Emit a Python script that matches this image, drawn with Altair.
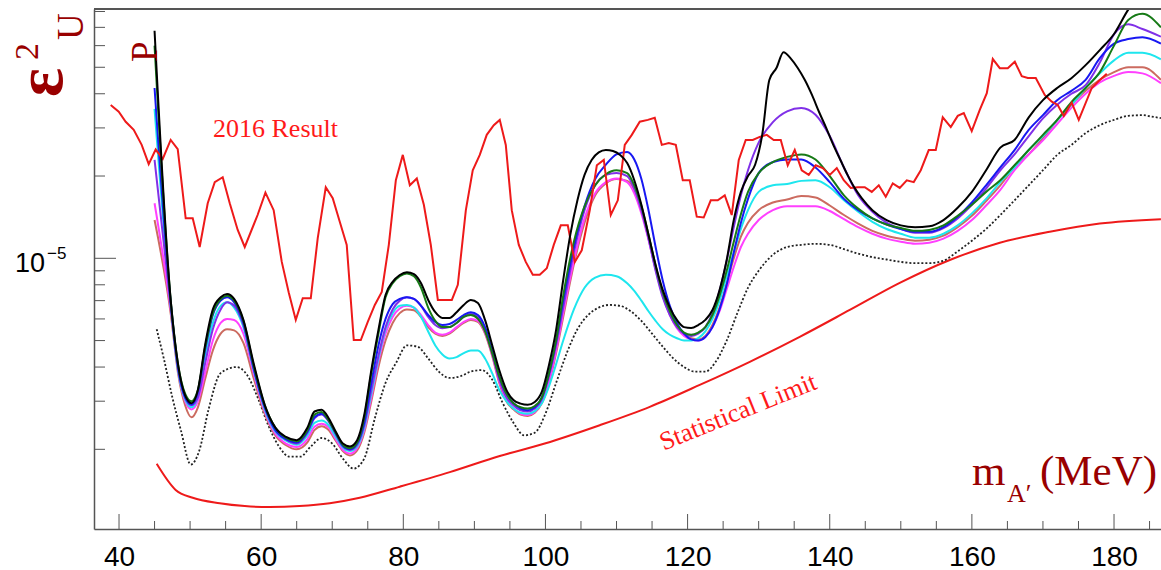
import altair as alt
import pandas as pd

# ---------------- data (mass in MeV, epsilon^2 in units of 1e-6) ----------------
grid = [45.0, 47.3, 48.3, 49.3, 50.2, 51.1, 52.1, 53.2, 54.3, 55.2, 56.2, 57.5, 59, 60.5, 62, 63.5,
        65, 66.5, 67.5, 68.5, 69.5, 70.5, 71.5, 72.5, 73.5, 74.5, 75.5, 76.5, 77.5, 78.5, 79.5, 80.5,
        81.5, 82.5, 83.5, 84.5, 85.5, 86.5, 87.5, 88.5, 89.5, 90.5, 91.5, 92.5, 93.5, 94.5, 95.5, 96.5,
        97.5, 98.5, 99.5, 100.5, 101.5, 102.5, 104, 105.5, 107, 108.5, 110, 111.5, 112.5, 113.5, 114.5,
        115.5, 116.5, 117.5, 118.5, 119.5, 120.5, 121.5, 122.5, 123.5, 124.5, 125.5, 126.5, 127.5, 128.5,
        130, 132, 134, 136, 138, 140, 142, 144, 146, 148, 150, 152, 154, 156, 158, 160, 162, 164, 166,
        168, 170, 172, 174, 176, 178, 180, 182, 184, 186.6]

green = [60, 6.9, 4.1, 3.2, 3.0, 3.3, 4.7, 6.3, 7.1, 7.3, 7.0, 5.9, 4.0, 2.9, 2.4, 2.2,
         2.14, 2.35, 2.68, 2.74, 2.55, 2.3, 2.08, 2.02, 2.12, 2.6, 3.8, 5.3, 7.2, 8.1, 8.6, 8.8,
         8.6, 7.8, 6.6, 5.9, 5.6, 5.6, 5.8, 6.1, 6.2, 6.0, 5.4, 4.5, 3.7, 3.2, 2.95, 2.85,
         2.82, 2.88, 3.1, 3.8, 5.0, 7.3, 11.5, 15.5, 18.5, 20.3, 21.0, 20.5, 18.5, 15.5, 12.2,
         9.4, 7.5, 6.4, 5.7, 5.35, 5.25, 5.35, 5.6, 6.2, 7.3, 9.0, 11.5, 14.5, 17.5,
         20.5, 22.5, 23.5, 24, 23, 20, 17, 15.2, 14.0, 13.3, 12.9, 12.6, 12.7, 13.2, 14.3, 15.7, 17.5, 19.3, 21.9,
         24.9, 28.3, 32.1, 37.3, 42, 48, 60, 74.5, 78.5, 70]

blue = [42, 6.8, 4.0, 3.1, 2.92, 3.25, 4.6, 6.2, 7.0, 7.2, 6.9, 5.8, 3.9, 2.85, 2.35, 2.18,
        2.12, 2.32, 2.62, 2.7, 2.55, 2.28, 2.06, 2.0, 2.1, 2.5, 3.5, 4.8, 6.0, 6.8, 7.1, 7.2,
        7.1, 6.7, 6.2, 5.85, 5.7, 5.75, 5.95, 6.2, 6.35, 6.2, 5.6, 4.6, 3.7, 3.2, 2.95, 2.82,
        2.78, 2.85, 3.1, 3.8, 5.0, 7.0, 11.0, 15.5, 19.5, 22.0, 24.0, 24.5, 23.0, 19.5, 15.0,
        11.0, 8.3, 6.7, 5.8, 5.3, 5.05, 5.0, 5.15, 5.6, 6.5, 8.0, 10.5, 13.5, 16.5,
        20.5, 22.5, 23.0, 23.0, 21.5, 19.0, 16.5, 15.0, 14.0, 13.3, 12.8, 12.5, 12.5, 13.0, 14.2, 16.0, 18.5, 21.5, 24.9,
        29.5, 33.4, 37.9, 41, 45, 54, 61, 63.4, 64.4, 61]

purple = [22.9, 6.6, 3.95, 3.1, 2.9, 3.1, 4.1, 5.5, 6.5, 6.9, 6.7, 5.7, 3.9, 2.85, 2.35, 2.17,
          2.1, 2.3, 2.6, 2.68, 2.53, 2.27, 2.05, 1.99, 2.08, 2.45, 3.3, 4.4, 5.6, 6.5, 7.0, 7.2,
          7.1, 6.7, 6.1, 5.7, 5.55, 5.6, 5.8, 6.1, 6.25, 6.1, 5.5, 4.5, 3.6, 3.1, 2.9, 2.78,
          2.75, 2.82, 3.05, 3.7, 4.8, 6.6, 10.5, 15.0, 18.5, 20.2, 20.5, 20.0, 18.0, 15.0, 11.8,
          9.0, 7.2, 6.2, 5.6, 5.3, 5.2, 5.3, 5.6, 6.3, 7.6, 9.8, 13.0, 17.0, 21.0,
          26.5, 31.5, 34.5, 35.5, 33.5, 28, 21.5, 17, 14.8, 13.5, 12.8, 12.4, 12.4, 12.9, 14.0, 15.7, 18.0, 21.0, 24.0,
          28.0, 32.5, 36.5, 40, 43, 52, 66, 71.8, 69, 64.7]

cyan = [35.2, 6.6, 3.9, 3.05, 2.85, 3.1, 4.3, 5.8, 6.7, 6.9, 6.6, 5.6, 3.85, 2.8, 2.32, 2.15,
        2.08, 2.25, 2.5, 2.55, 2.45, 2.22, 2.03, 1.97, 2.05, 2.4, 3.2, 4.3, 5.5, 6.3, 6.7, 6.75,
        6.6, 6.1, 5.4, 4.8, 4.45, 4.3, 4.35, 4.5, 4.6, 4.6, 4.3, 3.8, 3.3, 3.0, 2.82, 2.72,
        2.7, 2.76, 2.95, 3.4, 4.1, 5.0, 6.5, 7.8, 8.5, 8.7, 8.6, 8.1, 7.6, 7.0, 6.4,
        5.9, 5.5, 5.25, 5.1, 5.0, 5.0, 5.1, 5.4, 6.0, 7.0, 8.6, 10.5, 12.8, 15.0,
        17.5, 18.5, 18.7, 19.2, 19.3, 18.2, 16.3, 14.8, 13.6, 12.8, 12.3, 11.9, 11.9, 12.3, 13.2, 14.6, 16.5, 19.0, 21.5,
        24.9, 28.0, 32.0, 36.4, 42, 47.5, 53, 56.5, 56.5, 53.5]

rosy = [13.8, 6.2, 3.8, 2.9, 2.62, 2.85, 3.6, 4.6, 5.3, 5.5, 5.45, 4.9, 3.6, 2.7, 2.25, 2.07,
        2.0, 2.12, 2.35, 2.43, 2.35, 2.15, 1.97, 1.9, 1.98, 2.3, 3.0, 4.0, 5.0, 5.8, 6.3, 6.5,
        6.45, 6.1, 5.6, 5.3, 5.2, 5.3, 5.55, 5.8, 5.95, 5.85, 5.3, 4.4, 3.5, 3.0, 2.8, 2.68,
        2.65, 2.72, 2.95, 3.5, 4.5, 6.1, 9.5, 13.5, 17.0, 18.8, 19.5, 19.2, 17.8, 15.0, 12.0,
        9.3, 7.4, 6.3, 5.6, 5.25, 5.1, 5.05, 5.2, 5.7, 6.6, 8.1, 10.0, 12.0, 13.5,
        15.0, 16.0, 16.4, 16.9, 16.7, 15.6, 14.4, 13.4, 12.6, 12.1, 11.8, 11.6, 11.7, 12.1, 13.0, 14.3, 16.2, 18.5, 21.5,
        24.0, 27.5, 32.0, 36.5, 41.0, 45.0, 48.0, 50.0, 50.0, 45.0]

magenta = [15.9, 6.4, 3.9, 3.0, 2.8, 3.0, 3.8, 5.0, 5.8, 6.0, 5.95, 5.3, 3.75, 2.75, 2.28, 2.1,
           2.04, 2.18, 2.42, 2.48, 2.4, 2.18, 1.99, 1.93, 2.02, 2.35, 3.1, 4.2, 5.3, 6.1, 6.55, 6.7,
           6.6, 6.2, 5.7, 5.35, 5.25, 5.35, 5.6, 5.85, 6.0, 5.9, 5.35, 4.45, 3.55, 3.05, 2.83, 2.7,
           2.67, 2.74, 2.97, 3.55, 4.6, 6.3, 9.8, 14.0, 17.3, 19.0, 19.6, 19.0, 17.3, 14.6, 11.7,
           9.1, 7.3, 6.2, 5.55, 5.2, 5.05, 5.0, 5.15, 5.6, 6.4, 7.7, 9.3, 11.0, 12.3,
           13.8, 15.0, 15.5, 15.5, 15.5, 14.9, 13.9, 13.0, 12.3, 11.8, 11.5, 11.3, 11.4, 11.8, 12.6, 13.8, 15.6, 17.8, 21.0,
           24.0, 27.0, 31.0, 35.5, 40.0, 44.0, 46.5, 48.0, 47.5, 43.7]

black_m = [45.0, 47.3, 48.3, 49.3, 50.2, 51.1, 52.1, 53.2, 54.3, 55.2, 56.2, 57.5, 59, 60.5, 62, 63.5,
           65, 66.5, 67.5, 68.5, 69.5, 70.5, 71.5, 72.5, 73.5, 74.5, 75.5, 76.5, 77.5, 78.5, 79.5, 80.5,
           81.5, 82.5, 83.5, 84.5, 85.5, 86.5, 87.5, 88.5, 89.5, 90.5, 91.5, 92.5, 93.5, 94.5, 95.5, 96.5,
           97.5, 98.5, 99.5, 100.5, 101.5, 102.5, 103.5, 104.5, 105.5, 106.5, 107.5, 108.5, 109.5, 110.5,
           111.5, 112.5, 113.5, 114.5, 115.5, 116.5, 117.5, 118.5, 119.5, 120.5, 121.5, 122.5, 123.5, 124.5,
           125.5, 126.5, 127.5, 128.5, 129.5, 130.5, 131.5, 132.5, 133.5, 134.5, 135.5, 136.5, 137.5, 138.5,
           139.5, 140.5, 141.5, 142.5, 143.5, 144.5, 146, 148, 150, 152, 154, 156, 158, 160, 162, 164, 166,
           168, 170, 172, 174, 176, 178, 180, 182, 184]
black_v = [68, 6.9, 4.1, 3.15, 2.95, 3.3, 4.8, 6.5, 7.2, 7.4, 7.1, 5.95, 4.07, 2.91, 2.4, 2.22,
           2.16, 2.4, 2.75, 2.79, 2.6, 2.32, 2.1, 2.05, 2.16, 2.67, 3.9, 5.47, 7.34, 8.2, 8.69, 8.9,
           8.75, 8.1, 7.04, 6.35, 6.05, 6.05, 6.35, 6.75, 7.04, 6.86, 5.95, 4.82, 3.9, 3.3, 3.03, 2.94,
           2.91, 2.98, 3.25, 4.07, 5.47, 8.33, 12.2, 16.3, 20.2, 22.9, 24.4, 24.9, 24.7, 23.9,
           22.3, 19.3, 15.7, 12.2, 9.45, 7.66, 6.6, 5.95, 5.6, 5.56, 5.7, 5.95, 6.47, 7.66,
           9.86, 13.8, 17.5, 20.0, 22.0, 28.3, 44.9, 49.7, 56.8, 53.9, 49.7, 44.9, 39.6, 34.3,
           30.0, 26.0, 22.9, 20.2, 18.1, 16.6, 15.0, 13.8, 13.2, 13.0, 13.1, 13.8, 15.3, 17.5, 21.0, 25.4, 27.1,
           32.8, 37.9, 42.0, 45.6, 50.9, 57.8, 66.2, 81.3, 95]

dotted_m = [45.3, 46.3, 47.5, 48.7, 50.1, 51.3, 52.6, 54.3, 56.5, 58, 59.5, 61, 62.5, 64, 65.5, 67, 68.5,
            70, 71.5, 73, 74.5, 76, 77.5, 79, 80.5, 82, 83.5, 85, 86.5, 88, 89.5, 91, 92.5, 94, 95.5, 97,
            98.5, 100, 101.5, 103, 104.5, 106, 107.5, 109, 110.5, 112, 113.5, 115, 116.5, 118, 119.5, 121,
            122.5, 124, 125.5, 127, 128.5, 130, 132, 134, 136, 138, 140, 142, 144, 146, 148, 150, 152, 154,
            156, 158, 160, 162, 164, 166, 168, 170, 172, 174, 176, 178, 180, 182, 184, 185.3, 186.6]
dotted_v = [5.5, 4.3, 3.1, 2.35, 1.76, 1.98, 2.8, 3.8, 4.0, 3.75, 3.1, 2.45, 2.05, 1.88, 1.88, 2.05, 2.2,
            2.1, 1.85, 1.7, 1.85, 2.6, 3.5, 4.15, 4.8, 4.75, 4.3, 3.85, 3.65, 3.7, 3.85, 3.9, 3.6, 2.95, 2.5, 2.25,
            2.3, 2.7, 3.5, 4.5, 5.5, 6.2, 6.6, 6.75, 6.7, 6.4, 5.9, 5.3, 4.75, 4.3, 4.0, 3.85,
            3.85, 4.2, 5.0, 6.3, 7.8, 9.0, 10.3, 11.0, 11.2, 11.3, 11.2, 10.8, 10.4, 10.1, 9.9, 9.7, 9.6, 9.6,
            9.8, 10.6, 11.6, 12.8, 14.4, 16.3, 18.5, 21.0, 23.9, 26.0, 28.7, 30.7, 32.1, 33.2, 33.4, 33.0, 32.6]

r2016_m = [38.83, 39.96, 40.94, 42.07, 43.19, 44.18, 45.16, 46.15, 47.27, 48.26, 49.38, 50.37, 51.35, 52.48,
           53.47, 54.59, 55.58, 56.70, 57.69, 59.5, 60.6, 61.76, 62.9, 63.88, 64.87, 65.85, 66.98, 67.96, 69.09,
           70.07, 71.06, 72.04, 73.03, 74.02, 75.0, 75.99, 76.97, 77.96, 78.95, 79.93, 80.92, 81.9, 82.89, 83.87,
           84.86, 85.84, 86.83, 87.67, 88.8, 89.77, 90.76, 91.74, 92.73, 93.57, 94.42, 95.26, 96.25, 97.23,
           98.22, 99.2, 100.19, 101.17, 102.16, 103.14, 104.13, 105.11, 106.24, 107.23, 108.21, 109.19, 110.18,
           111.16, 112.15, 113.27, 114.4, 115.38, 116.37, 117.35, 118.34, 119.32, 120.3, 121.29, 122.27, 123.26,
           124.24, 125.23, 126.21, 127.2, 128.18, 129.17, 130.15, 131.14, 132.12, 133.11, 134.09, 135.08, 136.06,
           137.05, 138.03, 139.02, 140.0, 140.99, 141.97, 142.96, 143.94, 144.93, 145.91, 146.9, 147.88, 148.87,
           149.85, 150.84, 151.82, 152.81, 153.93, 154.92, 155.9, 157.03, 158.01, 158.86, 159.98, 161.11, 162.1,
           162.94, 163.93, 165.05, 166.04, 167.02, 167.87, 168.99, 170.25, 171.24, 172.08, 172.93, 174.05, 175.04,
           176.87, 178.0, 178.98]
r2016_v = [36.4, 34.4, 31.6, 29.5, 26.0, 22.1, 25.0, 23.1, 27.1, 25.1, 14.0, 14.0, 11.0, 15.9,
           19.0, 19.8, 15.9, 12.7, 11.0, 14.4, 17.4, 15.0, 9.7, 7.5, 5.95, 7.14, 7.14, 11.85, 18.2,
           16.6, 13.6, 11.2, 5.02, 5.02, 5.85, 6.75, 7.53, 11.2, 19.3, 23.9, 18.5, 19.6, 15.7, 11.2,
           7.04, 7.04, 7.04, 8.0, 15.0, 21.0, 23.9, 28.3, 30.7, 32.1, 26.0, 15.0, 11.2, 9.7,
           8.7, 8.7, 9.2, 11.2, 13.2, 13.2, 9.7, 10.7, 15.0, 21.9, 22.9, 14.4, 16.3,
           26.0, 28.3, 31.6, 32.1, 32.7, 26.0, 26.4, 26.0, 19.3, 19.3, 14.2, 14.1, 16.3,
           16.3, 17.0, 14.4, 22.9, 27.1, 27.1, 27.8, 28.3, 27.1, 27.1, 21.9, 24.9, 21.0,
           20.2, 21.9, 21.4, 20.2, 21.4, 19.3, 18.1, 18.2, 18.2, 17.5, 18.5, 16.8, 18.8,
           18.1, 19.3, 19.0, 21.0, 24.9, 24.9, 32.8, 30.2, 33.2, 34.0, 29.2, 34.9, 40.2,
           53.6, 49.6, 49.6, 52.4, 46.4, 45.7, 45.7, 39.6, 37.4, 36.4, 33.2, 37.1, 32.1,
           42.0, 44.9, 47.3]

stat_m = [45.3, 47.97, 50.37, 54.17, 57.69, 61.2, 65.4, 69.65, 73.87, 79.5, 86.54, 93.57, 99.9, 107.64,
          114.68, 121.71, 128.75, 135.78, 142.82, 149.85, 156.89, 163.93, 170.96, 178.0, 186.6]
stat_v = [1.77, 1.42, 1.33, 1.27, 1.24, 1.23, 1.24, 1.27, 1.33, 1.46, 1.65, 1.89, 2.10, 2.45,
          2.86, 3.44, 4.18, 5.16, 6.47, 8.13, 9.86, 11.4, 12.5, 13.4, 13.9]

x_labels = [40, 60, 80, 100, 120, 140, 160, 180]
x_minor = [45, 50, 55, 65, 70, 75, 85, 90, 95, 105, 110, 115, 125, 130, 135, 145, 150, 155, 165, 170, 175, 185]
y_major = [1e-5]
y_minor = [2e-6, 3e-6, 4e-6, 5e-6, 6e-6, 7e-6, 8e-6, 9e-6, 2e-5, 3e-5, 4e-5, 5e-5, 6e-5, 7e-5, 8e-5]

# ---------------- build ----------------
W, H = 1067, 520
AX = "#555555"
DARKRED = "#990000"
xscale = alt.Scale(domain=[36.48, 186.61], nice=False, zero=False)
yscale = alt.Scale(type="log", domain=[1.022e-6, 8.17e-5], nice=False)

XA = alt.Axis(values=x_labels, ticks=False, tickSize=0, grid=False, title=None,
              labelFont="Liberation Sans", labelFontSize=28, labelColor="black",
              labelPadding=36, labelBaseline="alphabetic", labelFlush=False,
              domainColor=AX, domainWidth=1.5)
YA = alt.Axis(labels=False, ticks=False, tickSize=0, grid=False, title=None,
              domainColor=AX, domainWidth=1.5, values=[1e-5])


def frame(xs, ys):
    assert len(xs) == len(ys), (len(xs), len(ys))
    return pd.DataFrame({"mev": xs, "eps2": [v * 1e-6 for v in ys]})


def curve(df, color, interp="monotone", dash=None, width=2.0):
    kw = dict(clip=True, color=color, strokeWidth=width, interpolate=interp)
    if dash:
        kw["strokeDash"] = dash
    return alt.Chart(df).mark_line(**kw).encode(
        x=alt.X("mev:Q", scale=xscale, axis=XA),
        y=alt.Y("eps2:Q", scale=yscale, axis=YA),
    )


layers = [
    curve(frame(stat_m, stat_v), "#ee1a1a", interp="monotone"),
    curve(frame(dotted_m, dotted_v), "#222222", dash=[2, 2], width=1.8),
    curve(frame(grid, rosy), "#cc6b60"),
    curve(frame(grid, magenta), "#ff40ff"),
    curve(frame(grid, cyan), "#1ee6ee"),
    curve(frame(grid, purple), "#8030e8"),
    curve(frame(grid, blue), "#1818f2"),
    curve(frame(grid, green), "#167a16"),
    curve(frame(r2016_m, r2016_v), "#ee1a1a", interp="linear"),
    curve(frame(black_m, black_v), "#000000"),
]


# tick marks (drawn inward)
def xticks(vals, length):
    return alt.Chart(pd.DataFrame({"mev": vals})).mark_rule(color=AX, strokeWidth=1).encode(
        x=alt.X("mev:Q", scale=xscale, axis=XA), y=alt.value(H), y2=alt.value(H - length))


def yticks(vals, length):
    return alt.Chart(pd.DataFrame({"eps2": vals})).mark_rule(color=AX, strokeWidth=1).encode(
        y=alt.Y("eps2:Q", scale=yscale, axis=YA), x=alt.value(0), x2=alt.value(length))


layers += [xticks(x_labels, 15), xticks(x_minor, 8), yticks(y_major, 22), yticks(y_minor, 11)]

one = pd.DataFrame({"a": [0]})
layers.append(alt.Chart(one).mark_rule(color=AX, strokeWidth=2).encode(
    x=alt.value(0), x2=alt.value(W), y=alt.value(0)))


def label(text, x, y, size, color, font="Liberation Serif", angle=0, align="left",
          baseline="alphabetic", weight="normal"):
    return alt.Chart(pd.DataFrame({"t": [text]})).mark_text(
        font=font, fontSize=size, color=color, angle=angle, align=align,
        baseline=baseline, fontWeight=weight
    ).encode(text="t:N", x=alt.value(x), y=alt.value(y))


OX, OY = 94, 9  # plot origin on the page
layers += [
    label("10", 30 - OX, 271.5 - OY, 27, "black", font="Liberation Sans", align="center"),
    label("\u22125", 47 - OX, 259 - OY, 17, "black", font="Liberation Sans"),
    label("\u03b5", 62 - OX, 97 - OY, 68, DARKRED, angle=270, weight="bold"),
    label("2", 38 - OX, 60 - OY, 34, DARKRED, angle=270),
    label("U", 83 - OX, 40 - OY, 37, DARKRED, angle=270),
    label("P", 157 - OX, 62 - OY, 37, DARKRED, angle=270),
    label("2016 Result", 213 - OX, 137 - OY, 26, "#ff1a1a"),
    label("Statistical Limit", 738 - OX, 412 - OY, 26, "#ff1a1a", angle=338,
          align="center", baseline="middle"),
    label("m", 972 - OX, 485 - OY, 43, DARKRED),
    label("A\u2032", 1007 - OX, 502 - OY, 26, DARKRED),
    label("(MeV)", 1040 - OX, 485 - OY, 43, DARKRED),
]

chart = alt.layer(*layers).properties(
    width=W, height=H,
    padding={"left": OX, "top": OY, "right": 0, "bottom": 570 - OY - H},
    autosize=alt.AutoSizeParams(type="none"),
    background="white",
).configure_view(stroke=None)

chart.save("out.html", embed_options={"renderer": "svg", "actions": False})
